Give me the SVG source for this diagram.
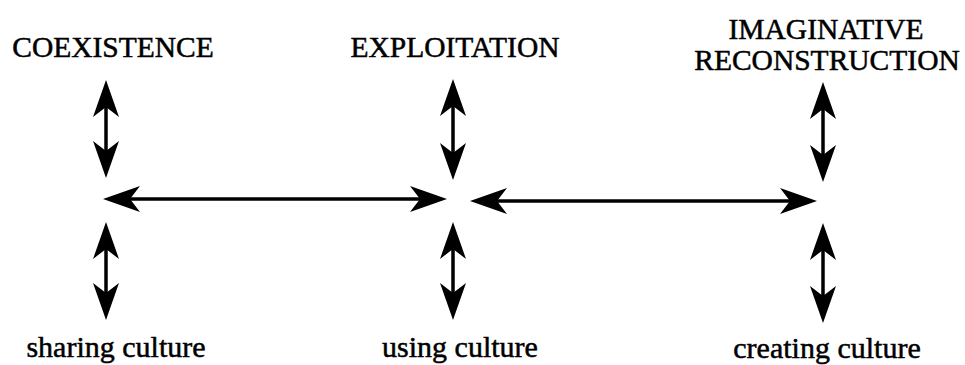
<svg xmlns="http://www.w3.org/2000/svg" width="965" height="365" viewBox="0 0 965 365">
<style>
text{font-family:"Liberation Serif","Times New Roman",serif;fill:#000;stroke:#000;stroke-width:0.5;text-anchor:middle}
.cap{font-size:29.5px}
.low{font-size:30px}
.conn line{stroke:#000;stroke-width:3.5;marker-start:url(#ah);marker-end:url(#ah)}
</style>
<defs>
<marker id="ah" viewBox="0 0 37 26" refX="10" refY="13" markerWidth="37" markerHeight="26" markerUnits="userSpaceOnUse" orient="auto-start-reverse">
<path d="M37,13 L0,0 L10,13 L0,26 Z" fill="#000"/>
</marker>
</defs>
<rect width="965" height="365" fill="#fff"/>
<g id="coexistence"><text class="cap" x="113" y="57">COEXISTENCE</text></g>
<g id="exploitation"><text class="cap" x="455" y="57">EXPLOITATION</text></g>
<g id="imaginative-reconstruction"><text class="cap" x="826" y="39">IMAGINATIVE</text><text class="cap" x="827" y="70">RECONSTRUCTION</text></g>
<g id="sharing-culture"><text class="low" x="116" y="357">sharing culture</text></g>
<g id="using-culture"><text class="low" x="460" y="357">using culture</text></g>
<g id="creating-culture"><text class="low" x="827" y="358">creating culture</text></g>
<g id="connectors" class="conn">
<line x1="106" y1="107" x2="106" y2="151"/>
<line x1="106" y1="249" x2="106" y2="293"/>
<line x1="453" y1="106" x2="453" y2="153"/>
<line x1="453" y1="249" x2="453" y2="293"/>
<line x1="823" y1="109" x2="823" y2="155"/>
<line x1="823" y1="250" x2="823" y2="296"/>
<line x1="130" y1="199" x2="420" y2="199"/>
<line x1="497" y1="201" x2="790" y2="201"/>
</g>
</svg>
